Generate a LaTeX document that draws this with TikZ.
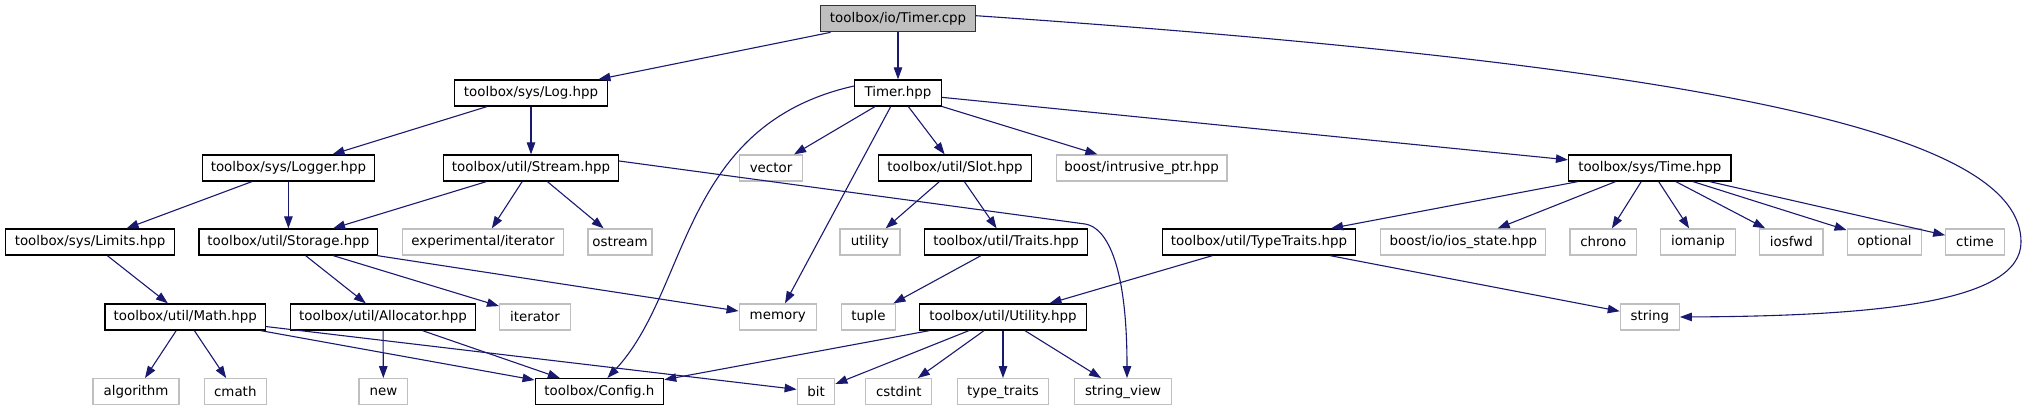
\documentclass[tikz,border=0pt]{standalone}
\usepackage{fontspec}
\setmainfont{DejaVu Sans}
\usetikzlibrary{arrows.meta}
\definecolor{edgeblue}{HTML}{191970}
\definecolor{extgray}{HTML}{BFBFBF}
\begin{document}
\begin{tikzpicture}[x=1pt,y=-1pt,
  font=\fontsize{13.4}{16}\selectfont,
  box/.style={draw=black, line width=1.3pt, minimum height=26pt, inner sep=0pt, fill=white},
  ext/.style={box, draw=extgray},
  rootbox/.style={box, fill=extgray, draw=black!80},
  conn/.style={draw=edgeblue, line width=1.1pt, -{Triangle[length=12pt,width=8.5pt]}}]
\useasboundingbox (0,0) rectangle (2028,411);
% row 1
\node[rootbox, minimum width=154.5pt] (tcpp) at (898,18.7) {toolbox/io/Timer.cpp};
% row 2
\node[box, minimum width=153pt] (log) at (531,93) {toolbox/sys/Log.hpp};
\node[box, minimum width=86.6pt] (thpp) at (898,93) {Timer.hpp};
% row 3
\node[box, minimum width=172pt] (logger) at (288.4,168) {toolbox/sys/Logger.hpp};
\node[box, minimum width=175pt] (stream) at (531,168) {toolbox/util/Stream.hpp};
\node[ext, minimum width=62.5pt] (vector) at (771,168) {vector};
\node[box, minimum width=153.6pt] (slot) at (955,168) {toolbox/util/Slot.hpp};
\node[ext, minimum width=170.5pt] (intr) at (1141.7,168) {boost/intrusive\_ptr.hpp};
\node[box, minimum width=162.4pt] (time) at (1649.8,168) {toolbox/sys/Time.hpp};
% row 4
\node[box, minimum width=169.6pt] (limits) at (90,242) {toolbox/sys/Limits.hpp};
\node[box, minimum width=178.7pt] (storage) at (288.4,242) {toolbox/util/Storage.hpp};
\node[ext, minimum width=161.3pt] (expit) at (483,242) {experimental/iterator};
\node[ext, minimum width=63.8pt] (ostream) at (620,242) {ostream};
\node[ext, minimum width=60pt] (utility) at (870,242) {utility};
\node[box, minimum width=162.5pt] (traits) at (1006,242) {toolbox/util/Traits.hpp};
\node[box, minimum width=193pt] (ttraits) at (1259,242) {toolbox/util/TypeTraits.hpp};
\node[ext, minimum width=165pt] (iosst) at (1463.3,242) {boost/io/ios\_state.hpp};
\node[ext, minimum width=66.7pt] (chrono) at (1603.3,242) {chrono};
\node[ext, minimum width=74.6pt] (iomanip) at (1698,242) {iomanip};
\node[ext, minimum width=63.6pt] (iosfwd) at (1791.3,242) {iosfwd};
\node[ext, minimum width=74.6pt] (optional) at (1884.5,242) {optional};
\node[ext, minimum width=58.4pt] (ctime) at (1975,242) {ctime};
% row 5
\node[box, minimum width=160.4pt] (math) at (185.2,317) {toolbox/util/Math.hpp};
\node[box, minimum width=185.6pt] (alloc) at (383,317) {toolbox/util/Allocator.hpp};
\node[ext, minimum width=70.7pt] (iterator) at (535,317) {iterator};
\node[ext, minimum width=77pt] (memory) at (777.7,317) {memory};
\node[ext, minimum width=54.5pt] (tuple) at (868.4,317) {tuple};
\node[box, minimum width=166.5pt] (utilh) at (1003,317) {toolbox/util/Utility.hpp};
\node[ext, minimum width=58.8pt] (string) at (1649.8,317) {string};
% row 6
\node[ext, minimum width=86pt] (algorithm) at (136,391.7) {algorithm};
\node[ext, minimum width=62pt] (cmath) at (235.3,391.7) {cmath};
\node[ext, minimum width=48.6pt] (nnew) at (383.4,391.7) {new};
\node[box, minimum width=128.4pt] (config) at (599.4,391.7) {toolbox/Config.h};
\node[ext, minimum width=37.5pt] (bit) at (816,391.7) {bit};
\node[ext, minimum width=66pt] (cstdint) at (898.8,391.7) {cstdint};
\node[ext, minimum width=91.5pt] (typetr) at (1003,391.7) {type\_traits};
\node[ext, minimum width=96.9pt] (sview) at (1123,391.7) {string\_view};
% edges
\draw[conn] (tcpp) -- (log);
\draw[conn] (tcpp) -- (thpp);
\draw[conn] ([yshift=3pt]tcpp.east) .. controls (1725,67) and (2021,135) .. (2021,242)
  .. controls (2021,302) and (1879,316) .. (string.east);
\draw[conn] (log) -- (logger);
\draw[conn] (log) -- (stream);
\draw[conn] ([yshift=7pt]thpp.west) .. controls (680,125) and (690,290) .. ([xshift=8pt]config.north);
\draw[conn] (thpp) -- (vector);
\draw[conn] (thpp) -- (memory);
\draw[conn] (thpp) -- (slot);
\draw[conn] (thpp) -- (intr);
\draw[conn] (thpp) -- (time);
\draw[conn] (logger) -- (limits);
\draw[conn] (logger) -- (storage);
\draw[conn] (stream) -- (storage);
\draw[conn] (stream) -- (expit);
\draw[conn] (stream) -- (ostream);
\draw[conn] ([yshift=7pt]stream.east) -- (1085,224) .. controls (1105,227) and (1127,260) .. ([xshift=4pt]sview.north);
\draw[conn] (slot) -- (utility);
\draw[conn] (slot) -- (traits);
\draw[conn] (time) -- (ttraits);
\draw[conn] (time) -- (iosst);
\draw[conn] (time) -- (chrono);
\draw[conn] (time) -- (iomanip);
\draw[conn] (time) -- (iosfwd);
\draw[conn] (time) -- (optional);
\draw[conn] (time) -- (ctime);
\draw[conn] (limits) -- (math);
\draw[conn] (storage) -- (alloc);
\draw[conn] (storage) -- (iterator);
\draw[conn] (storage) -- (memory);
\draw[conn] (traits) -- (tuple);
\draw[conn] (ttraits) -- (utilh);
\draw[conn] (ttraits) -- (string);
\draw[conn] (math) -- (algorithm);
\draw[conn] (math) -- (cmath);
\draw[conn] (math) -- (config);
\draw[conn] (math) -- (bit);
\draw[conn] (alloc) -- (nnew);
\draw[conn] (alloc) -- (config);
\draw[conn] (utilh) -- (config);
\draw[conn] (utilh) -- (bit);
\draw[conn] (utilh) -- (cstdint);
\draw[conn] (utilh) -- (typetr);
\draw[conn] (utilh) -- (sview);
\end{tikzpicture}
\end{document}
